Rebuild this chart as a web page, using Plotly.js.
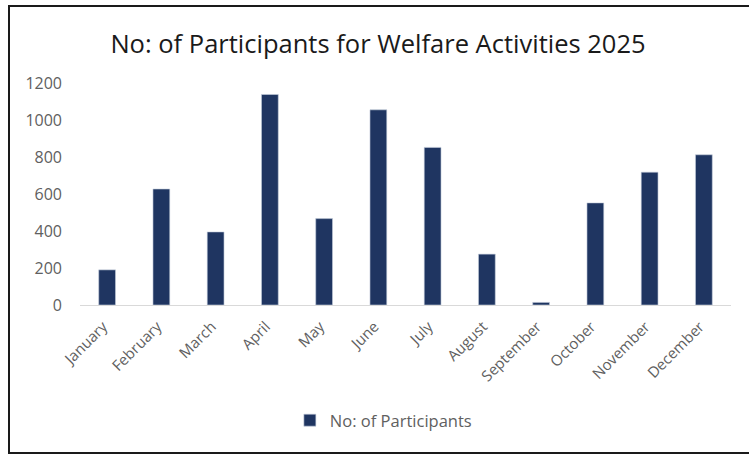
<!DOCTYPE html>
<html>
<head>
<meta charset="utf-8">
<script src="https://cdn.plot.ly/plotly-3.0.1.min.js"></script>
<style>
  html, body { margin: 0; padding: 0; background: #fff; }
  #chart { width: 749px; height: 456px; position: absolute; left: 0; top: 0; }
  #frame { position: absolute; left: 8px; top: 5px; width: 760px; height: 445px;
           border-left: 2px solid #1a1a1a; border-top: 2px solid #1a1a1a; border-bottom: 2px solid #1a1a1a;
           pointer-events: none; }
</style>
</head>
<body>
<div id="chart"></div>
<div id="frame"></div>
<script>
const months = ["January", "February", "March", "April", "May", "June", "July", "August", "September", "October", "November", "December"];
const participants = [190, 627, 395, 1138, 467, 1055, 852, 275, 14, 552, 718, 812];
const seriesName = "No: of Participants";
const chartTitle = "No: of Participants for Welfare Activities 2025";
const yTicks = [0, 200, 400, 600, 800, 1000, 1200];

const trace = {
  type: "bar",
  x: months,
  y: participants,
  name: seriesName,
  marker: { color: "#1f3561", line: { color: "#c8d0de", width: 0.6 } },
  showlegend: true
};

const layout = {
  width: 749,
  height: 456,
  paper_bgcolor: "#ffffff",
  plot_bgcolor: "#ffffff",
  margin: { l: 80, r: 18, t: 83, b: 151, pad: 0 },
  bargap: 0.69,
  showlegend: true,
  title: {
    text: chartTitle,
    font: { family: "Open Sans, sans-serif", size: 25.5, color: "#1a1a1a" },
    x: 378 / 749, xanchor: "center",
    y: 1 - 44 / 456, yanchor: "middle", yref: "container"
  },
  xaxis: {
    type: "category",
    tickangle: -45,
    showgrid: false,
    showline: true,
    linecolor: "#d9d9d9",
    linewidth: 1,
    ticks: "",
    ticklabelstandoff: 6,
    ticklabelshift: -4,
    tickfont: { family: "Open Sans, sans-serif", size: 15, color: "#606060" },
    zeroline: false
  },
  yaxis: {
    range: [0, 1200],
    tickvals: yTicks,
    ticktext: yTicks.map(String),
    showgrid: false,
    showline: false,
    zeroline: false,
    ticks: "",
    ticklabelstandoff: 17,
    tickfont: { family: "Open Sans, sans-serif", size: 16, color: "#606060" }
  },
  legend: {
    orientation: "h",
    x: 0.466, xanchor: "center",
    y: -0.52, yanchor: "middle",
    font: { family: "Open Sans, sans-serif", size: 16.5, color: "#606060" },
    itemwidth: 30
  }
};

Plotly.newPlot("chart", [trace], layout, { displayModeBar: false, staticPlot: true });
</script>
</body>
</html>
